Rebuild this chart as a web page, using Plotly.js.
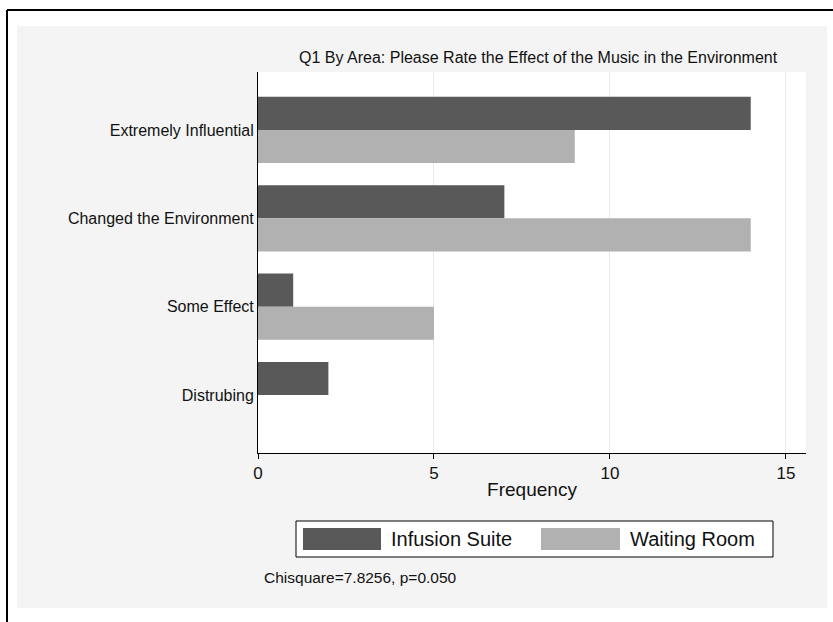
<!DOCTYPE html>
<html>
<head>
<meta charset="utf-8">
<script src="https://cdn.plot.ly/plotly-3.0.1.min.js"></script>
<style>html,body{margin:0;padding:0;background:#fff;}#chart{width:833px;height:622px;}</style>
</head>
<body>
<div id="chart"></div>
<script>
const categories = ["Extremely Influential", "Changed the Environment", "Some Effect", "Distrubing"];
const infusionSuite = [14, 7, 1, 2];
const waitingRoom = [9, 14, 5, 0];
const seriesNames = ["Infusion Suite", "Waiting Room"];
const xTicks = [0, 5, 10, 15];
const chartTitle = "Q1 By Area: Please Rate the Effect of the Music in the Environment";
const noteText = "Chisquare=7.8256, p=0.050";

const W = 833, H = 622;
const mL = 258, mR = 27, mT = 72, mB = 169;
const pw = W - mL - mR, ph = H - mT - mB;
const px = X => (X - mL) / pw;
const py = Y => (H - mB - Y) / ph;

const darkC = '#595959', lightC = '#b1b1b1';
const font = 'Liberation Sans, Arial, sans-serif';

const traces = [
  {type: 'bar', orientation: 'h', name: seriesNames[0], y: categories, x: infusionSuite,
   marker: {color: darkC, line: {width: 0}}, hoverinfo: 'x+y'},
  {type: 'bar', orientation: 'h', name: seriesNames[1], y: categories, x: waitingRoom,
   marker: {color: lightC, line: {width: 0}}, hoverinfo: 'x+y'}
];

const shapes = [
  {type: 'rect', xref: 'paper', yref: 'paper', layer: 'below',
   x0: px(17), x1: px(827), y0: py(608), y1: py(26), fillcolor: '#f4f4f4', line: {width: 0}},
  {type: 'rect', xref: 'paper', yref: 'paper', layer: 'below',
   x0: 0, x1: 1, y0: 0, y1: 1, fillcolor: '#ffffff', line: {width: 0}},
  {type: 'line', xref: 'paper', yref: 'paper', x0: px(7), x1: px(7), y0: py(10), y1: py(640), line: {color: '#000', width: 2}},
  {type: 'line', xref: 'paper', yref: 'paper', x0: px(7), x1: px(840), y0: py(10), y1: py(10), line: {color: '#000', width: 2}},
  {type: 'rect', xref: 'paper', yref: 'paper', x0: px(296), x1: px(773), y0: py(557), y1: py(521),
   fillcolor: '#ffffff', line: {color: '#000', width: 1}},
  {type: 'rect', xref: 'paper', yref: 'paper', x0: px(303), x1: px(381), y0: py(550), y1: py(528),
   fillcolor: darkC, line: {width: 0}},
  {type: 'rect', xref: 'paper', yref: 'paper', x0: px(541), x1: px(620), y0: py(550), y1: py(528),
   fillcolor: lightC, line: {width: 0}}
];

const annotations = [
  {text: chartTitle, xref: 'paper', yref: 'paper', x: px(538), y: py(58), xanchor: 'center', yanchor: 'middle',
   showarrow: false, font: {family: font, size: 16, color: '#111'}},
  {text: seriesNames[0], xref: 'paper', yref: 'paper', x: px(389), y: py(539), xanchor: 'left', yanchor: 'middle',
   showarrow: false, font: {family: font, size: 20, color: '#111'}},
  {text: seriesNames[1], xref: 'paper', yref: 'paper', x: px(628), y: py(539), xanchor: 'left', yanchor: 'middle',
   showarrow: false, font: {family: font, size: 20, color: '#111'}},
  {text: noteText, xref: 'paper', yref: 'paper', x: px(262), y: py(577), xanchor: 'left', yanchor: 'middle',
   showarrow: false, font: {family: font, size: 15.5, color: '#111'}}
];

const layout = {
  width: W, height: H,
  margin: {l: mL, r: mR, t: mT, b: mB, pad: 0},
  paper_bgcolor: '#ffffff', plot_bgcolor: 'rgba(0,0,0,0)',
  barmode: 'group', bargap: 0.25, bargroupgap: 0,
  showlegend: false,
  font: {family: font, color: '#111'},
  xaxis: {range: [0, 15.57], tickvals: xTicks, ticks: 'outside', ticklen: 5, tickcolor: '#000',
          showline: true, linecolor: '#000', linewidth: 1, showgrid: true, gridcolor: '#eaeaea',
          zeroline: false, tickfont: {size: 17, family: font, color: '#111'},
          title: {text: 'Frequency', font: {size: 19, family: font, color: '#111'}, standoff: 0}},
  yaxis: {type: 'category', autorange: false, range: [3.655, -0.655], showline: true, linecolor: '#000', linewidth: 1,
          ticks: '', showgrid: false, zeroline: false, ticklabelstandoff: 0,
          tickfont: {size: 16, family: font, color: '#111'}},
  shapes: shapes,
  annotations: annotations
};

Plotly.newPlot('chart', traces, layout, {displayModeBar: false, staticPlot: true});
</script>
</body>
</html>
